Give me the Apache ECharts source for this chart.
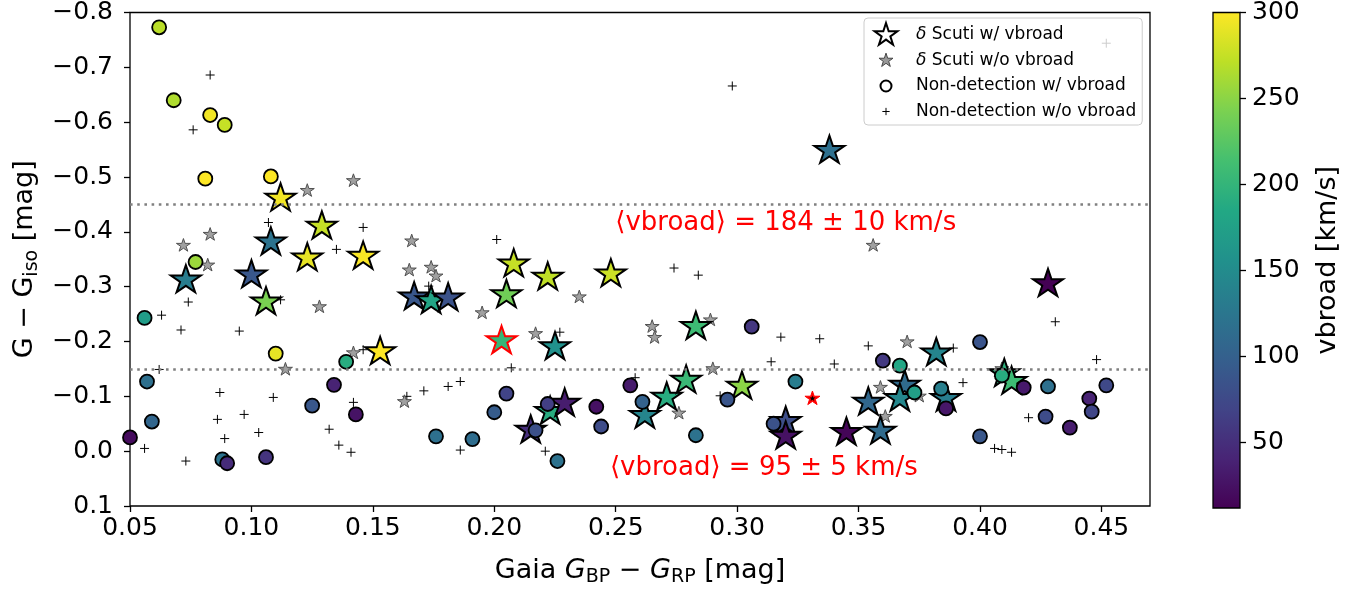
<!DOCTYPE html>
<html>
<head>
<meta charset="utf-8">
<title>vbroad vs colour</title>
<script src="https://cdn.jsdelivr.net/npm/echarts@6/dist/echarts.min.js"></script>
<style>
    html, body { margin: 0; padding: 0; background: #fff; }
    #chart { width: 1363px; height: 592px; }
</style>
</head>
<body>
<div id="chart"></div>
<script>
// delta Scuti with vbroad
var dsX = [0.112, 0.129, 0.108, 0.123, 0.146, 0.073, 0.100, 0.106, 0.153, 0.167, 0.174, 0.181, 0.208, 0.205, 0.222, 0.248, 0.225, 0.215, 0.223, 0.229, 0.262, 0.271, 0.279, 0.283, 0.302, 0.320, 0.320, 0.345, 0.354, 0.359, 0.338, 0.369, 0.367, 0.382, 0.386, 0.410, 0.413, 0.428];
var dsY = [-0.461, -0.410, -0.381, -0.352, -0.355, -0.312, -0.321, -0.272, -0.181, -0.281, -0.274, -0.279, -0.341, -0.285, -0.317, -0.323, -0.190, -0.038, -0.072, -0.087, -0.065, -0.098, -0.129, -0.227, -0.118, -0.054, -0.027, -0.034, -0.089, -0.036, -0.548, -0.120, -0.096, -0.179, -0.096, -0.141, -0.127, -0.305];
var dsV = [295, 275, 121, 290, 298, 133, 90, 242, 300, 90, 180, 85, 275, 237, 272, 278, 156, 50, 190, 35, 142, 190, 205, 208, 250, 80, 25, 15, 108, 112, 118, 112, 145, 142, 133, 195, 208, 12];

// highlighted delta Scuti (red edge): x, y, vbroad
var hlStar = [0.203, -0.201, 202];
// highlighted star without vbroad
var redStar = [0.331, -0.096];

// delta Scuti without vbroad
var nvX = [0.123, 0.142, 0.083, 0.072, 0.082, 0.128, 0.142, 0.114, 0.166, 0.165, 0.174, 0.176, 0.195, 0.235, 0.217, 0.163, 0.265, 0.266, 0.289, 0.290, 0.276, 0.356, 0.359, 0.361, 0.370, 0.375, 0.409];
var nvY = [-0.475, -0.493, -0.395, -0.375, -0.339, -0.263, -0.179, -0.149, -0.383, -0.330, -0.335, -0.319, -0.252, -0.281, -0.214, -0.090, -0.227, -0.207, -0.239, -0.150, -0.069, -0.375, -0.116, -0.063, -0.199, -0.100, -0.150];

// non-detections with vbroad
var ndX = [0.062, 0.068, 0.083, 0.089, 0.081, 0.108, 0.077, 0.056, 0.110, 0.139, 0.057, 0.134, 0.125, 0.143, 0.059, 0.050, 0.088, 0.090, 0.106, 0.205, 0.200, 0.176, 0.191, 0.217, 0.222, 0.226, 0.242, 0.244, 0.256, 0.261, 0.283, 0.296, 0.306, 0.324, 0.315, 0.360, 0.367, 0.373, 0.384, 0.386, 0.400, 0.400, 0.409, 0.418, 0.428, 0.427, 0.437, 0.445, 0.446, 0.452];
var ndY = [-0.773, -0.640, -0.613, -0.595, -0.497, -0.501, -0.345, -0.243, -0.178, -0.163, -0.127, -0.121, -0.083, -0.067, -0.054, -0.025, 0.015, 0.022, 0.011, -0.105, -0.071, -0.027, -0.022, -0.038, -0.086, 0.018, -0.081, -0.045, -0.120, -0.090, -0.029, -0.094, -0.227, -0.127, -0.050, -0.165, -0.156, -0.107, -0.114, -0.078, -0.199, -0.027, -0.138, -0.116, -0.118, -0.063, -0.043, -0.096, -0.072, -0.120];
var ndV = [270, 265, 295, 275, 300, 300, 257, 170, 290, 190, 118, 40, 90, 27, 107, 20, 121, 47, 55, 70, 95, 118, 115, 82, 65, 120, 25, 78, 33, 102, 120, 88, 58, 133, 85, 60, 183, 175, 135, 30, 87, 90, 190, 32, 118, 78, 35, 40, 72, 75];

// non-detections without vbroad
var npX = [0.083, 0.076, 0.107, 0.146, 0.135, 0.074, 0.112, 0.063, 0.071, 0.095, 0.146, 0.062, 0.087, 0.109, 0.142, 0.086, 0.097, 0.132, 0.103, 0.089, 0.136, 0.141, 0.056, 0.073, 0.201, 0.173, 0.227, 0.207, 0.164, 0.171, 0.181, 0.186, 0.186, 0.221, 0.258, 0.274, 0.284, 0.298, 0.293, 0.318, 0.334, 0.354, 0.314, 0.340, 0.389, 0.393, 0.420, 0.406, 0.409, 0.413, 0.431, 0.448, 0.452];
var npY = [-0.686, -0.586, -0.417, -0.408, -0.368, -0.272, -0.276, -0.248, -0.221, -0.219, -0.185, -0.149, -0.107, -0.098, -0.089, -0.058, -0.067, -0.040, -0.034, -0.023, -0.011, 0.002, -0.005, 0.018, -0.386, -0.301, -0.217, -0.152, -0.100, -0.110, -0.118, -0.127, -0.002, 0.000, -0.134, -0.334, -0.321, -0.666, -0.101, -0.208, -0.205, -0.192, -0.163, -0.159, -0.188, -0.125, -0.061, -0.005, -0.003, 0.002, -0.236, -0.167, -0.744];

// mean vbroad levels and labels
var levelY = [-0.45, -0.15];
var levelText = ['⟨vbroad⟩ = 184 ± 10 km/s', '⟨vbroad⟩ = 95 ± 5 km/s'];
var levelPos = [[0.320, -0.416], [0.311, 0.031]];

var xTicks = [0.05, 0.10, 0.15, 0.20, 0.25, 0.30, 0.35, 0.40, 0.45];
var yTicks = [-0.8, -0.7, -0.6, -0.5, -0.4, -0.3, -0.2, -0.1, 0.0, 0.1];
var cbTicks = [50, 100, 150, 200, 250, 300];
var vMin = 12, vMax = 300;

var viridis = ['#440154', '#482475', '#414487', '#355f8d', '#2a788e', '#21918c', '#22a884', '#44bf70', '#7ad151', '#bddf26', '#fde725'];

var FONT = 'DejaVu Sans';
var STAR = 'path://M0,-100L22.45,-30.9L95.11,-30.9L36.33,11.8L58.78,80.9L0,38.2L-58.78,80.9L-36.33,11.8L-95.11,-30.9L-22.45,-30.9ZM0,100';
var PLUS = 'path://M0,-100L0,100M-100,0L100,0';
var CIRC = 'path://M100,0A100,100,0,1,1,-100,0A100,100,0,1,1,100,0Z';

// legend icons padded so they keep their relative sizes
function pad (p, r) {
    return p + 'M' + (-r) + ',' + (-r) + 'M' + r + ',' + r;
}

function zip (a, b, c) {
    return a.map(function (v, i) { return c ? [v, b[i], c[i]] : [v, b[i]]; });
}

var names = ['δ Scuti w/ vbroad', 'δ Scuti w/o vbroad', 'Non-detection w/ vbroad', 'Non-detection w/o vbroad'];

var tickStyle = { show: true, length: 6, lineStyle: { color: '#000', width: 1.3 } };

var chart = echarts.init(document.getElementById('chart'));
chart.setOption({
    animation: false,
    textStyle: { fontFamily: FONT },
    grid: [
        { left: 130, top: 12, width: 1020, height: 496, show: true, borderColor: '#000', borderWidth: 1.3, backgroundColor: 'transparent' },
        {
            left: 1213, top: 12, width: 27, height: 496, show: true, borderColor: '#000', borderWidth: 1.3,
            backgroundColor: {
                type: 'linear', x: 0, y: 1, x2: 0, y2: 0,
                colorStops: viridis.map(function (c, i) { return { offset: i / (viridis.length - 1), color: c }; })
            }
        }
    ],
    xAxis: [
        {
            type: 'value', min: 0.05, max: 0.47,
            axisLine: { show: false, onZero: false },
            splitLine: { show: false },
            axisTick: Object.assign({ customValues: xTicks }, tickStyle),
            axisLabel: { customValues: xTicks, color: '#000', fontSize: 25, margin: 10, formatter: function (v) { return v.toFixed(2); } },
            name: '{n|Gaia }{i|G}{s|BP}{n| − }{i|G}{s|RP}{n| [mag]}',
            nameLocation: 'middle', nameGap: 49,
            nameTextStyle: {
                color: '#000',
                rich: {
                    n: { fontSize: 27, lineHeight: 32, color: '#000', fontFamily: FONT },
                    i: { fontSize: 27, lineHeight: 32, fontStyle: 'italic', color: '#000', fontFamily: FONT },
                    s: { fontSize: 19, lineHeight: 19, verticalAlign: 'bottom', color: '#000', fontFamily: FONT }
                }
            }
        },
        { gridIndex: 1, type: 'value', show: false, min: 0, max: 1 }
    ],
    yAxis: [
        {
            type: 'value', inverse: true, min: -0.8, max: 0.1,
            axisLine: { show: false, onZero: false },
            splitLine: { show: false },
            axisTick: Object.assign({ customValues: yTicks }, tickStyle),
            axisLabel: {
                customValues: yTicks, color: '#000', fontSize: 25, margin: 17,
                formatter: function (v) { return (v < -1e-9 ? '−' : '') + Math.abs(v).toFixed(1); }
            },
            name: '{n|G − G}{s|iso}{n| [mag]}',
            nameLocation: 'middle', nameGap: 62,
            nameTextStyle: {
                color: '#000',
                rich: {
                    n: { fontSize: 27, lineHeight: 32, color: '#000', fontFamily: FONT },
                    s: { fontSize: 19, lineHeight: 19, verticalAlign: 'bottom', color: '#000', fontFamily: FONT }
                }
            }
        },
        {
            gridIndex: 1, type: 'value', position: 'right', min: vMin, max: vMax,
            axisLine: { show: false, onZero: false },
            splitLine: { show: false },
            axisTick: Object.assign({ customValues: cbTicks }, tickStyle),
            axisLabel: { customValues: cbTicks, color: '#000', fontSize: 25, margin: 12 },
            name: 'vbroad [km/s]', nameLocation: 'middle', nameRotate: 90, nameGap: 74,
            nameTextStyle: { color: '#000', fontSize: 27 }
        }
    ],
    visualMap: {
        show: false, type: 'continuous', min: vMin, max: vMax, dimension: 2,
        seriesIndex: [2, 3, 4],
        inRange: { color: viridis }
    },
    legend: {
        orient: 'vertical', left: 864, top: 18,
        itemWidth: 50, itemHeight: 24, itemGap: 0,
        padding: [4, 6, 1, 9],
        backgroundColor: 'rgba(255,255,255,0.8)', borderColor: '#cccccc', borderWidth: 1, borderRadius: 4,
        textStyle: { fontSize: 17, color: '#000', rich: { d: { fontSize: 17, fontStyle: 'italic', color: '#000' } } },
        formatter: function (name) { return name.replace('δ', '{d|δ}'); },
        data: [
            { name: names[0], icon: pad(STAR, 100), itemStyle: { color: '#fff', borderColor: '#000', borderWidth: 2, opacity: 1 } },
            { name: names[1], icon: pad(STAR, 163), itemStyle: { color: '#999999', borderColor: '#444', borderWidth: 1, opacity: 1 } },
            { name: names[2], icon: pad(CIRC, 218), itemStyle: { color: '#fff', borderColor: '#000', borderWidth: 2, opacity: 1 } },
            { name: names[3], icon: pad(PLUS, 330), itemStyle: { color: '#000', borderColor: '#000', borderWidth: 1, opacity: 1 } }
        ]
    },
    series: [
        {
            name: names[3], type: 'scatter', symbol: PLUS, symbolSize: 9,
            data: zip(npX, npY),
            itemStyle: { color: '#000', borderColor: '#000', borderWidth: 1, opacity: 1 },
            markLine: {
                silent: true, symbol: ['none', 'none'],
                lineStyle: { color: '#808080', type: [2.6, 4.6], width: 2.6, opacity: 1 },
                label: { show: false },
                data: levelY.map(function (y) { return { yAxis: y }; })
            },
            markPoint: {
                silent: true, symbol: 'circle', symbolSize: 1,
                itemStyle: { color: 'transparent' },
                label: { show: true, position: 'inside', color: '#ff0000', fontSize: 26, fontFamily: FONT },
                data: levelPos.map(function (p, i) { return { coord: p, label: { formatter: levelText[i] } }; })
            }
        },
        {
            name: names[1], type: 'scatter', symbol: STAR, symbolSize: 14,
            data: zip(nvX, nvY),
            itemStyle: { color: '#a0a0a0', borderColor: '#505050', borderWidth: 1, opacity: 1 }
        },
        {
            name: names[0], type: 'scatter', symbol: STAR, symbolSize: 30,
            data: zip(dsX, dsY, dsV),
            itemStyle: { borderColor: '#000', borderWidth: 2, opacity: 1 }
        },
        {
            name: names[2], type: 'scatter', symbol: 'circle', symbolSize: 14,
            data: zip(ndX, ndY, ndV),
            itemStyle: { borderColor: '#000', borderWidth: 1.8, opacity: 1 }
        },
        {
            name: 'highlight', type: 'scatter', symbol: STAR, symbolSize: 30,
            data: [hlStar],
            itemStyle: { borderColor: '#ff0000', borderWidth: 2, opacity: 1 }
        },
        {
            name: 'highlight w/o', type: 'scatter', symbol: STAR, symbolSize: 15,
            data: [redStar],
            itemStyle: { color: '#ff0000', borderColor: '#ff0000', borderWidth: 1, opacity: 1 }
        },
        {
            name: 'highlight w/o core', type: 'scatter', symbol: STAR, symbolSize: 6,
            data: [redStar],
            itemStyle: { color: '#000', opacity: 1 }
        }
    ]
});
</script>
</body>
</html>
